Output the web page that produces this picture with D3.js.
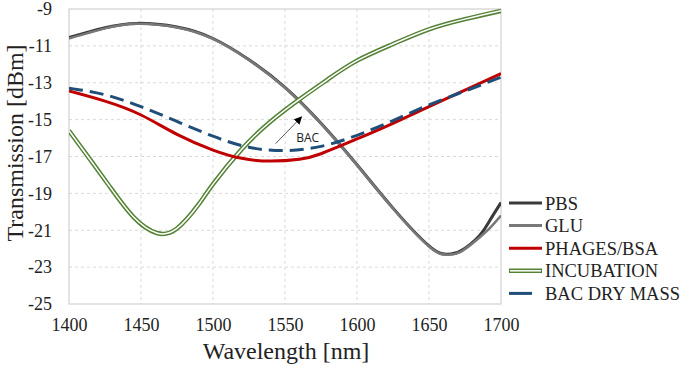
<!DOCTYPE html>
<html>
<head>
<meta charset="utf-8">
<script src="https://cdn.jsdelivr.net/npm/d3@7"></script>
<style>
  body { margin: 0; background: #fff; }
  svg { display: block; }
</style>
</head>
<body>
<div id="chart"></div>
<script>
// data (wavelength in nm, transmission in dBm)
const pbsNm = [1400, 1425, 1447, 1475, 1500, 1525, 1550, 1575, 1600, 1625, 1650, 1662, 1672, 1685, 1692, 1700];
const pbsDb = [-10.55, -10.02, -9.78, -9.98, -10.6, -11.75, -13.25, -15.2, -17.45, -19.8, -21.85, -22.3, -22.12, -21.3, -20.5, -19.5];
const gluNm = [1400, 1425, 1447, 1475, 1500, 1525, 1550, 1575, 1600, 1625, 1650, 1662, 1672, 1685, 1692, 1700];
const gluDb = [-10.6, -10.05, -9.8, -10.0, -10.62, -11.77, -13.27, -15.22, -17.47, -19.82, -21.88, -22.33, -22.17, -21.4, -20.9, -20.2];
const phagesNm = [1400, 1425, 1450, 1475, 1500, 1520, 1540, 1560, 1575, 1600, 1625, 1650, 1675, 1700];
const phagesDb = [-13.45, -14.0, -14.75, -15.8, -16.65, -17.1, -17.25, -17.15, -16.85, -16.05, -15.2, -14.3, -13.4, -12.5];
const incubNm = [1400, 1415, 1428, 1445, 1461, 1475, 1490, 1500, 1520, 1540, 1560, 1580, 1600, 1625, 1650, 1675, 1700];
const incubDb = [-15.6, -17.2, -18.6, -20.3, -21.15, -20.9, -19.6, -18.5, -16.6, -15.1, -13.9, -12.8, -11.8, -10.9, -10.1, -9.55, -9.1];
const bacNm = [1400, 1425, 1450, 1475, 1500, 1525, 1550, 1575, 1600, 1625, 1650, 1675, 1700];
const bacDb = [-13.3, -13.65, -14.3, -15.1, -15.9, -16.5, -16.68, -16.45, -15.85, -15.05, -14.2, -13.45, -12.7];

const xTicks = [1400, 1450, 1500, 1550, 1600, 1650, 1700];
const yTicks = [-9, -11, -13, -15, -17, -19, -21, -23, -25];
const legendNames = ["PBS", "GLU", "PHAGES/BSA", "INCUBATION", "BAC DRY MASS"];

// annotation arrow: from / to, in data units
const bacArrow = [[1543.5, -16.3], [1561.5, -14.85]];
const bacLabel = [1557.8, -16.2];

const W = 685, H = 371;
const plot = { left: 69, right: 501, top: 9, bottom: 304 };
const serif = "'Liberation Serif', 'Times New Roman', serif";

const svg = d3.select("#chart").append("svg")
    .attr("width", W)
    .attr("height", H);

const x = d3.scaleLinear().domain([1400, 1700]).range([plot.left, plot.right]);
const y = d3.scaleLinear().domain([-25, -9]).range([plot.bottom, plot.top]);

// grid
const grid = svg.append("g");
grid.selectAll(".vg")
    .data(xTicks.slice(1, -1))
    .join("line")
    .attr("x1", d => x(d)).attr("x2", d => x(d))
    .attr("y1", plot.top).attr("y2", plot.bottom)
    .attr("stroke", "#d9d9d9")
    .attr("stroke-dasharray", "3,3");
grid.selectAll(".hg")
    .data(yTicks.slice(1, -1))
    .join("line")
    .attr("x1", plot.left).attr("x2", plot.right)
    .attr("y1", d => y(d)).attr("y2", d => y(d))
    .attr("stroke", "#d9d9d9")
    .attr("stroke-dasharray", "3,3");

svg.append("rect")
    .attr("x", plot.left).attr("y", plot.top)
    .attr("width", plot.right - plot.left)
    .attr("height", plot.bottom - plot.top)
    .attr("fill", "none")
    .attr("stroke", "#c8c8c8");

// axes (labels only, no tick marks)
const xAxis = svg.append("g")
    .attr("transform", `translate(0,${plot.bottom})`)
    .call(d3.axisBottom(x).tickValues(xTicks).tickSize(0).tickPadding(14).tickFormat(d3.format("d")));
xAxis.select(".domain").remove();
xAxis.selectAll("text")
    .attr("font-family", serif)
    .attr("font-size", "18px")
    .attr("fill", "#222");

const yAxis = svg.append("g")
    .attr("transform", `translate(${plot.left},0)`)
    .call(d3.axisLeft(y).tickValues(yTicks).tickSize(0).tickPadding(17).tickFormat(d => d));
yAxis.select(".domain").remove();
yAxis.selectAll("text")
    .attr("font-family", serif)
    .attr("font-size", "18px")
    .attr("fill", "#222");

svg.append("text")
    .attr("transform", `translate(23,143) rotate(-90)`)
    .attr("text-anchor", "middle")
    .attr("font-family", serif)
    .attr("font-size", "24px")
    .attr("fill", "#222")
    .text("Transmission [dBm]");

svg.append("text")
    .attr("x", 286).attr("y", 359)
    .attr("text-anchor", "middle")
    .attr("font-family", serif)
    .attr("font-size", "24px")
    .attr("fill", "#222")
    .text("Wavelength [nm]");

// curves
svg.append("clipPath").attr("id", "clip")
    .append("rect")
    .attr("x", plot.left).attr("y", plot.top - 2)
    .attr("width", plot.right - plot.left)
    .attr("height", plot.bottom - plot.top + 2);

const line = d3.line()
    .x(d => x(d[0]))
    .y(d => y(d[1]))
    .curve(d3.curveNatural);

const zip = (a, b) => a.map((v, i) => [v, b[i]]);
const curves = svg.append("g").attr("clip-path", "url(#clip)");

curves.append("path")
    .attr("d", line(zip(pbsNm, pbsDb)))
    .attr("fill", "none").attr("stroke", "#3a3a3a").attr("stroke-width", 3);
curves.append("path")
    .attr("d", line(zip(gluNm, gluDb)))
    .attr("fill", "none").attr("stroke", "#787878").attr("stroke-width", 2.5);

const incub = line(zip(incubNm, incubDb));
curves.append("path")
    .attr("d", incub)
    .attr("fill", "none").attr("stroke", "#548235").attr("stroke-width", 4.5);
curves.append("path")
    .attr("d", incub)
    .attr("fill", "none").attr("stroke", "#fff").attr("stroke-width", 1.5);

curves.append("path")
    .attr("d", line(zip(phagesNm, phagesDb)))
    .attr("fill", "none").attr("stroke", "#c00000").attr("stroke-width", 3);
curves.append("path")
    .attr("d", line(zip(bacNm, bacDb)))
    .attr("fill", "none").attr("stroke", "#1f4e79").attr("stroke-width", 3)
    .attr("stroke-dasharray", "14,7");

// BAC annotation
svg.append("defs").append("marker")
    .attr("id", "arrow")
    .attr("viewBox", "0 0 10 10")
    .attr("refX", 9).attr("refY", 5)
    .attr("markerWidth", 8).attr("markerHeight", 8)
    .attr("markerUnits", "userSpaceOnUse")
    .attr("orient", "auto")
    .append("path")
    .attr("d", "M0,0 L10,5 L0,10 Z")
    .attr("fill", "#000");

svg.append("line")
    .attr("x1", x(bacArrow[0][0])).attr("y1", y(bacArrow[0][1]))
    .attr("x2", x(bacArrow[1][0])).attr("y2", y(bacArrow[1][1]))
    .attr("stroke", "#595959").attr("stroke-width", 1)
    .attr("marker-end", "url(#arrow)");

svg.append("text")
    .attr("x", x(bacLabel[0])).attr("y", y(bacLabel[1]))
    .attr("font-family", "'Open Sans', 'DejaVu Sans', sans-serif")
    .attr("font-size", "12px")
    .attr("fill", "#222")
    .text("BAC");

// legend
const legend = svg.append("g");
legendNames.forEach((name, i) => {
    const ly = 203 + i * 22.6;
    const g = legend.append("g");
    if (i === 3) {
        g.append("line").attr("x1", 509).attr("x2", 542).attr("y1", ly).attr("y2", ly)
            .attr("stroke", "#548235").attr("stroke-width", 4.5);
        g.append("line").attr("x1", 510).attr("x2", 541).attr("y1", ly).attr("y2", ly)
            .attr("stroke", "#fff").attr("stroke-width", 1.5);
    } else {
        const col = ["#3a3a3a", "#787878", "#c00000", null, "#1f4e79"][i];
        g.append("line").attr("x1", 509).attr("x2", i === 4 ? 532 : 542)
            .attr("y1", ly).attr("y2", ly)
            .attr("stroke", col).attr("stroke-width", 3);
    }
    g.append("text")
        .attr("x", 545).attr("y", ly + 6.5)
        .attr("font-family", serif)
        .attr("font-size", "18.5px")
        .attr("fill", "#222")
        .text(name);
});
</script>
</body>
</html>
